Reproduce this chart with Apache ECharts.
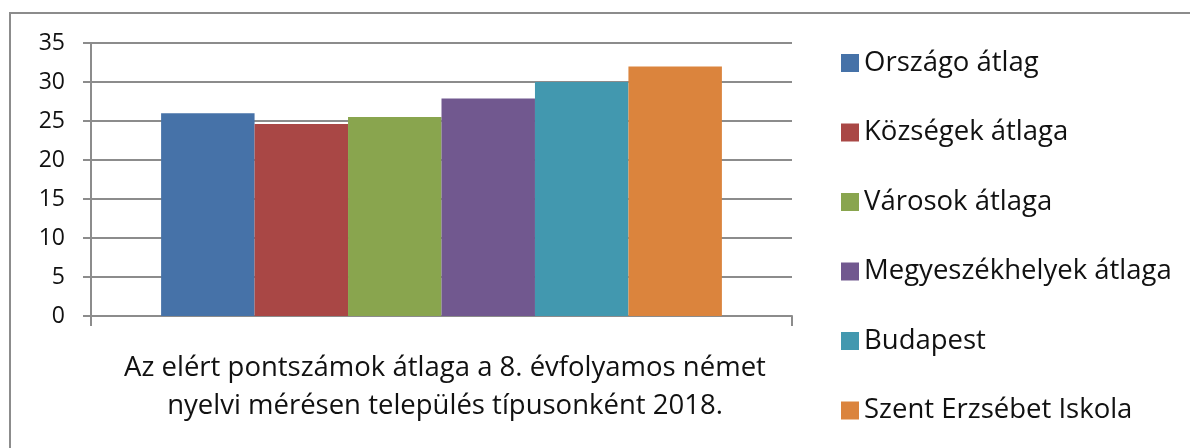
<!DOCTYPE html>
<html>
<head>
<meta charset="utf-8">
<script src="https://cdn.jsdelivr.net/npm/echarts@6/dist/echarts.min.js"></script>
<style>
  html, body { margin: 0; padding: 0; background: #fff; }
  #chart { width: 1190px; height: 448px; }
</style>
</head>
<body>
<div id="chart"></div>
<script>
// data
const seriesNames = ['Országo átlag', 'Községek átlaga', 'Városok átlaga', 'Megyeszékhelyek átlaga', 'Budapest', 'Szent Erzsébet Iskola'];
const seriesValues = [26, 24.6, 25.5, 27.9, 30, 32];
const colors = ['#4672A8', '#A94745', '#89A54E', '#71588F', '#4298AF', '#DB843D'];
const categories = [''];
const chartTitle = 'Az elért pontszámok átlaga a 8. évfolyamos német\nnyelvi mérésen település típusonként 2018.';

const font = '"Open Sans", "Noto Sans", sans-serif';
const gray = '#8c8c8c';

const chart = echarts.init(document.getElementById('chart'));

const series = seriesNames.map((name, i) => ({
  name: name,
  type: 'bar',
  data: [seriesValues[i]],
  barGap: '0%',
  barCategoryGap: '20%',
  itemStyle: { color: colors[i] },
  emphasis: { disabled: true }
}));

const option = {
  animation: false,
  textStyle: { fontFamily: font },
  graphic: [{
    type: 'rect',
    shape: { x: 10, y: 13, width: 1200, height: 460 },
    style: { fill: 'none', stroke: gray, lineWidth: 2 },
    silent: true
  }],
  title: {
    text: chartTitle,
    left: 440,
    top: 344,
    textAlign: 'center',
    textStyle: {
      fontFamily: font,
      fontSize: 27.5,
      fontWeight: 'normal',
      color: '#111',
      lineHeight: 38
    }
  },
  legend: {
    orient: 'vertical',
    left: 836,
    top: 43,
    icon: 'rect',
    itemWidth: 18,
    itemHeight: 18,
    itemGap: 39.5,
    data: seriesNames,
    textStyle: {
      fontFamily: font,
      fontSize: 27.5,
      color: '#111',
      lineHeight: 30
    }
  },
  grid: { left: 91, right: 398, top: 43, bottom: 132 },
  xAxis: {
    type: 'category',
    data: categories,
    axisLine: { show: true, lineStyle: { color: gray, width: 2 } },
    axisTick: { show: true, length: 10, lineStyle: { color: gray, width: 2 } },
    axisLabel: { show: false }
  },
  yAxis: {
    type: 'value',
    min: 0,
    max: 35,
    interval: 5,
    axisLine: { show: true, lineStyle: { color: gray, width: 2 } },
    axisTick: { show: true, length: 8, lineStyle: { color: gray, width: 2 } },
    axisLabel: { fontFamily: font, fontSize: 23, color: '#111', margin: 26 },
    splitLine: { show: true, lineStyle: { color: gray, width: 2 } }
  },
  series: series
};

chart.setOption(option);
</script>
</body>
</html>
